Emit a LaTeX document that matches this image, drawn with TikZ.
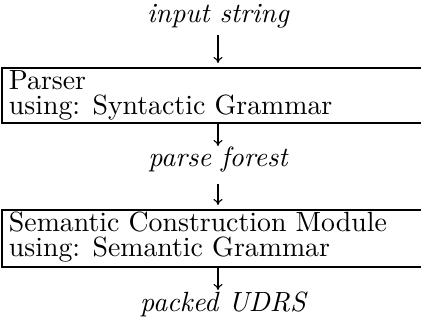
\documentclass[tikz,border=0pt]{standalone}
\usetikzlibrary{arrows.meta}
% text is set at 10pt design size and enlarged
\newcommand\enl[1]{\scalebox{2.78}{#1}}
\begin{document}
\begin{tikzpicture}[x=1pt,y=-1pt,
  every node/.style={inner sep=0pt,outer sep=0pt,font=\fontsize{10}{12}\selectfont},
  label/.style={font=\fontsize{10}{12}\selectfont\itshape,anchor=base},
  boxtext/.style={anchor=base west},
  module/.style={draw,line width=1.2pt,anchor=north west,minimum width=460pt},
  flow/.style={line width=1.1pt,-{Computer Modern Rightarrow[length=6pt,width=9pt]}}]
  \useasboundingbox (0,0) rectangle (421,320);

  % input
  \node[label] (in) at (218,23) {\enl{input string}};

  % parser stage
  \node[module,minimum height=55pt] (parser) at (2,68) {};
  \node[boxtext] (p1) at (9,90) {\enl{Parser}};
  \node[boxtext] (p2) at (9,115) {\enl{using: Syntactic Grammar}};

  % intermediate result
  \node[label] (forest) at (218,167) {\enl{parse forest}};

  % semantic stage
  \node[module,minimum height=57pt] (sem) at (2,210) {};
  \node[boxtext] (s1) at (9,232) {\enl{Semantic Construction Module}};
  \node[boxtext] (s2) at (9,257) {\enl{using: Semantic Grammar}};

  % output
  \node[label] (out) at (223,312) {\enl{packed UDRS}};

  % connectors
  \draw[flow,shorten <=6pt,shorten >=5pt] (in.south -| 218,0) -- (parser.north -| 218,0);
  \draw[flow] (parser.south -| 218,0) -- ++(0,23);
  \draw[flow,shorten <=11pt,shorten >=5pt] (forest.south -| 218,0) -- (sem.north -| 218,0);
  \draw[flow] (sem.south -| 218,0) -- ++(0,23);
\end{tikzpicture}
\end{document}
